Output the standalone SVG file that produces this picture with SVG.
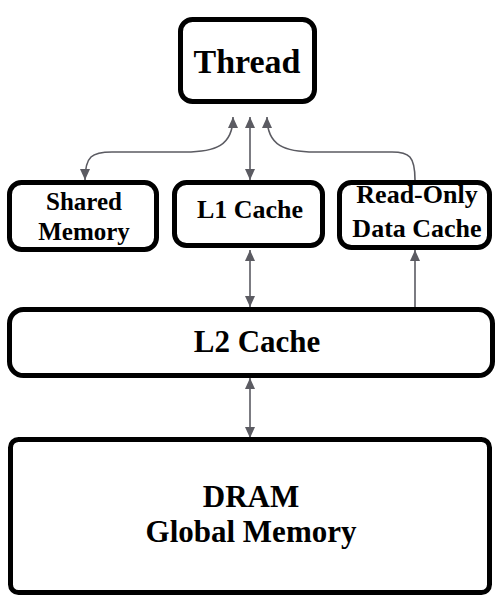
<svg xmlns="http://www.w3.org/2000/svg" width="502" height="601" viewBox="0 0 502 601">
<style>
.box{fill:#fff;stroke:#000;stroke-width:5}
.lbl{font-family:"Liberation Serif","Times New Roman",serif;font-weight:bold;fill:#000;text-anchor:middle}
.con{fill:none;stroke:#5b5b62;stroke-width:1.6}
</style>
<defs>
<marker id="ah" viewBox="0 0 11 10" markerWidth="11" markerHeight="10" refX="11" refY="5" orient="auto-start-reverse" markerUnits="userSpaceOnUse">
<path d="M0,0 L11,5 L0,10 z" fill="#5b5b62"/>
</marker>
</defs>
<rect width="502" height="601" fill="#fff"/>
<g id="connectors">
<path class="con" d="M250,117 L250,180" marker-start="url(#ah)" marker-end="url(#ah)"/>
<path class="con" d="M233,117 C233,146 215,152 185,152 L112,152 C92,152 85,156 85,180" marker-start="url(#ah)" marker-end="url(#ah)"/>
<path class="con" d="M267,117 C267,146 285,152 315,152 L392,152 C409,152 415,156 415,180" marker-start="url(#ah)"/>
<path class="con" d="M250,250 L250,307" marker-start="url(#ah)" marker-end="url(#ah)"/>
<path class="con" d="M415,307 L415,250" marker-end="url(#ah)"/>
<path class="con" d="M250,378 L250,438" marker-start="url(#ah)" marker-end="url(#ah)"/>
</g>
<g id="thread">
<rect class="box" x="180.5" y="19.5" width="134" height="82" rx="12"/>
<text class="lbl" x="247" y="73" font-size="34">Thread</text>
</g>
<g id="shared-memory">
<rect class="box" x="9.5" y="182.5" width="147" height="67" rx="12"/>
<text class="lbl" x="84" y="210" font-size="25">Shared</text>
<text class="lbl" x="84" y="240" font-size="25">Memory</text>
</g>
<g id="l1-cache">
<rect class="box" x="174.5" y="182.5" width="148" height="63" rx="12"/>
<text class="lbl" x="250" y="218" font-size="26">L1 Cache</text>
</g>
<g id="read-only">
<rect class="box" x="339.5" y="182.5" width="150" height="65" rx="12"/>
<text class="lbl" x="417" y="203" font-size="26">Read-Only</text>
<text class="lbl" x="417" y="237" font-size="26">Data Cache</text>
</g>
<g id="l2-cache">
<rect class="box" x="9.5" y="309.5" width="483" height="66" rx="14"/>
<text class="lbl" x="257" y="352" font-size="31">L2 Cache</text>
</g>
<g id="dram">
<rect class="box" x="10.5" y="439.5" width="479" height="153" rx="8"/>
<text class="lbl" x="251" y="507" font-size="31">DRAM</text>
<text class="lbl" x="251" y="542" font-size="31">Global Memory</text>
</g>
</svg>
